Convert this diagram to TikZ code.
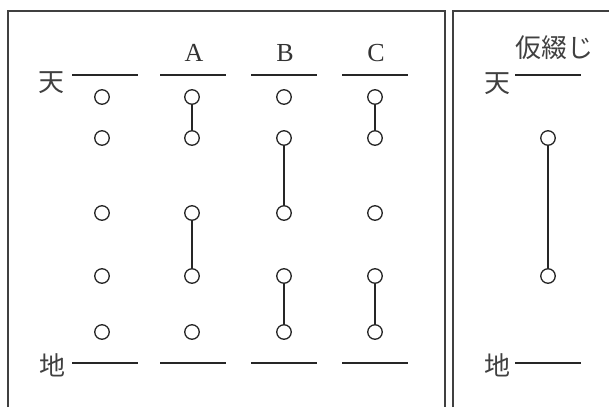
\documentclass[tikz,border=0pt]{standalone}
\usepackage{fontspec}
\newfontfamily\jp{Noto Sans CJK JP}
\newfontfamily\lat{Liberation Serif}
\begin{document}
\begin{tikzpicture}[x=1pt,y=-1pt,
  peg/.style={circle,draw=black!85,fill=white,line width=1.3pt,minimum size=14.5pt,inner sep=0pt},
  link/.style={draw=black!85,line width=1.3pt},
  rule/.style={draw=black!85,line width=1.3pt},
  frame/.style={draw=black!75,line width=1.4pt},
  kanji/.style={font=\jp\fontsize{26}{26}\selectfont,text=black!75,inner sep=0pt},
  latin/.style={font=\lat\fontsize{26}{26}\selectfont,text=black!80,inner sep=0pt}]
\useasboundingbox (0,0) rectangle (609,407);
% frames
\draw[frame] (8,407) -- (8,11) -- (445,11) -- (445,407);
\draw[frame] (453,407) -- (453,11) -- (609,11);
% rules
\foreach \x in {72,160,251,342,515} {
  \draw[rule] (\x,75) -- ++(66,0);
  \draw[rule] (\x,363) -- ++(66,0);
}
% labels
\node[kanji] (ten1) at (51,83) {天};
\node[kanji] (chi1) at (52,365) {地};
\node[kanji] (ten2) at (497,84) {天};
\node[kanji] (chi2) at (497,365) {地};
\node[kanji] (kari) at (554,48) {仮綴じ};
\node[latin] (lA) at (194,53) {A};
\node[latin] (lB) at (285,53) {B};
\node[latin] (lC) at (376,53) {C};
% pegs
\foreach \c/\x in {o/102,a/192,b/284,c/375} {
  \foreach \r/\y in {1/97,2/138,3/213,4/276,5/332} {
    \node[peg] (\c\r) at (\x,\y) {};
  }
}
\node[peg] (k2) at (548,138) {};
\node[peg] (k4) at (548,276) {};
% links
\draw[link] (a1) -- (a2);
\draw[link] (a3) -- (a4);
\draw[link] (b2) -- (b3);
\draw[link] (b4) -- (b5);
\draw[link] (c1) -- (c2);
\draw[link] (c4) -- (c5);
\draw[link] (k2) -- (k4);
\end{tikzpicture}
\end{document}
